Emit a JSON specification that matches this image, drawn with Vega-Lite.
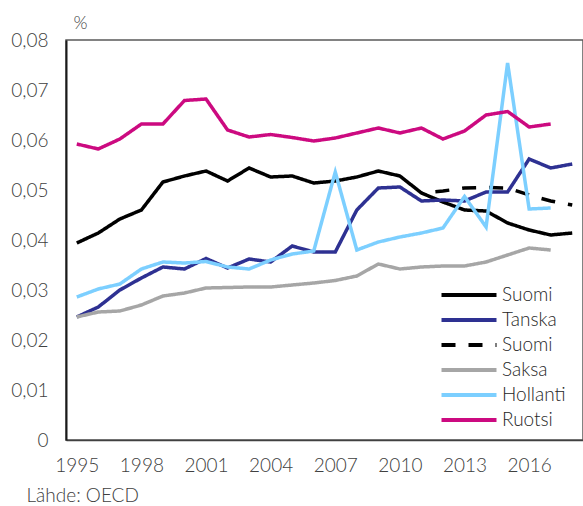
{
  "$schema": "https://vega.github.io/schema/vega-lite/v6.json",
  "width": 517,
  "height": 400,
  "autosize": {"type": "none"},
  "padding": {"left": 66, "top": 40, "right": 0, "bottom": 66},
  "background": "white",
  "config": {
    "view": {"stroke": "#595959", "strokeWidth": 1.5},
    "font": "Lato"
  },
  "data": {
    "values": [
      {"year": 1995, "series": "Suomi", "value": 0.0394},
      {"year": 1996, "series": "Suomi", "value": 0.0414},
      {"year": 1997, "series": "Suomi", "value": 0.0442},
      {"year": 1998, "series": "Suomi", "value": 0.0460},
      {"year": 1999, "series": "Suomi", "value": 0.0516},
      {"year": 2000, "series": "Suomi", "value": 0.0528},
      {"year": 2001, "series": "Suomi", "value": 0.0538},
      {"year": 2002, "series": "Suomi", "value": 0.0518},
      {"year": 2003, "series": "Suomi", "value": 0.0544},
      {"year": 2004, "series": "Suomi", "value": 0.0526},
      {"year": 2005, "series": "Suomi", "value": 0.0528},
      {"year": 2006, "series": "Suomi", "value": 0.0514},
      {"year": 2007, "series": "Suomi", "value": 0.0518},
      {"year": 2008, "series": "Suomi", "value": 0.0526},
      {"year": 2009, "series": "Suomi", "value": 0.0538},
      {"year": 2010, "series": "Suomi", "value": 0.0528},
      {"year": 2011, "series": "Suomi", "value": 0.0494},
      {"year": 2012, "series": "Suomi", "value": 0.0476},
      {"year": 2013, "series": "Suomi", "value": 0.0460},
      {"year": 2014, "series": "Suomi", "value": 0.0458},
      {"year": 2015, "series": "Suomi", "value": 0.0434},
      {"year": 2016, "series": "Suomi", "value": 0.0420},
      {"year": 2017, "series": "Suomi", "value": 0.0410},
      {"year": 2018, "series": "Suomi", "value": 0.0414},

      {"year": 1995, "series": "Tanska", "value": 0.0246},
      {"year": 1996, "series": "Tanska", "value": 0.0266},
      {"year": 1997, "series": "Tanska", "value": 0.0300},
      {"year": 1998, "series": "Tanska", "value": 0.0324},
      {"year": 1999, "series": "Tanska", "value": 0.0346},
      {"year": 2000, "series": "Tanska", "value": 0.0342},
      {"year": 2001, "series": "Tanska", "value": 0.0363},
      {"year": 2002, "series": "Tanska", "value": 0.0344},
      {"year": 2003, "series": "Tanska", "value": 0.0362},
      {"year": 2004, "series": "Tanska", "value": 0.0356},
      {"year": 2005, "series": "Tanska", "value": 0.0388},
      {"year": 2006, "series": "Tanska", "value": 0.0376},
      {"year": 2007, "series": "Tanska", "value": 0.0376},
      {"year": 2008, "series": "Tanska", "value": 0.0460},
      {"year": 2009, "series": "Tanska", "value": 0.0504},
      {"year": 2010, "series": "Tanska", "value": 0.0506},
      {"year": 2011, "series": "Tanska", "value": 0.0478},
      {"year": 2012, "series": "Tanska", "value": 0.0480},
      {"year": 2013, "series": "Tanska", "value": 0.0478},
      {"year": 2014, "series": "Tanska", "value": 0.0496},
      {"year": 2015, "series": "Tanska", "value": 0.0496},
      {"year": 2016, "series": "Tanska", "value": 0.0562},
      {"year": 2017, "series": "Tanska", "value": 0.0544},
      {"year": 2018, "series": "Tanska", "value": 0.0552},

      {"year": 2011, "series": "Suomi ennuste", "value": 0.0494},
      {"year": 2012, "series": "Suomi ennuste", "value": 0.0498},
      {"year": 2013, "series": "Suomi ennuste", "value": 0.0504},
      {"year": 2014, "series": "Suomi ennuste", "value": 0.0505},
      {"year": 2015, "series": "Suomi ennuste", "value": 0.0504},
      {"year": 2016, "series": "Suomi ennuste", "value": 0.0490},
      {"year": 2017, "series": "Suomi ennuste", "value": 0.0478},
      {"year": 2018, "series": "Suomi ennuste", "value": 0.0470},

      {"year": 1995, "series": "Saksa", "value": 0.0246},
      {"year": 1996, "series": "Saksa", "value": 0.0256},
      {"year": 1997, "series": "Saksa", "value": 0.0258},
      {"year": 1998, "series": "Saksa", "value": 0.0270},
      {"year": 1999, "series": "Saksa", "value": 0.0288},
      {"year": 2000, "series": "Saksa", "value": 0.0294},
      {"year": 2001, "series": "Saksa", "value": 0.0304},
      {"year": 2002, "series": "Saksa", "value": 0.0305},
      {"year": 2003, "series": "Saksa", "value": 0.0306},
      {"year": 2004, "series": "Saksa", "value": 0.0306},
      {"year": 2005, "series": "Saksa", "value": 0.0310},
      {"year": 2006, "series": "Saksa", "value": 0.0314},
      {"year": 2007, "series": "Saksa", "value": 0.0319},
      {"year": 2008, "series": "Saksa", "value": 0.0328},
      {"year": 2009, "series": "Saksa", "value": 0.0352},
      {"year": 2010, "series": "Saksa", "value": 0.0342},
      {"year": 2011, "series": "Saksa", "value": 0.0346},
      {"year": 2012, "series": "Saksa", "value": 0.0348},
      {"year": 2013, "series": "Saksa", "value": 0.0348},
      {"year": 2014, "series": "Saksa", "value": 0.0356},
      {"year": 2015, "series": "Saksa", "value": 0.0370},
      {"year": 2016, "series": "Saksa", "value": 0.0384},
      {"year": 2017, "series": "Saksa", "value": 0.0380},

      {"year": 1995, "series": "Hollanti", "value": 0.0286},
      {"year": 1996, "series": "Hollanti", "value": 0.0302},
      {"year": 1997, "series": "Hollanti", "value": 0.0312},
      {"year": 1998, "series": "Hollanti", "value": 0.0342},
      {"year": 1999, "series": "Hollanti", "value": 0.0356},
      {"year": 2000, "series": "Hollanti", "value": 0.0354},
      {"year": 2001, "series": "Hollanti", "value": 0.0357},
      {"year": 2002, "series": "Hollanti", "value": 0.0346},
      {"year": 2003, "series": "Hollanti", "value": 0.0342},
      {"year": 2004, "series": "Hollanti", "value": 0.0360},
      {"year": 2005, "series": "Hollanti", "value": 0.0372},
      {"year": 2006, "series": "Hollanti", "value": 0.0378},
      {"year": 2007, "series": "Hollanti", "value": 0.0536},
      {"year": 2008, "series": "Hollanti", "value": 0.0380},
      {"year": 2009, "series": "Hollanti", "value": 0.0396},
      {"year": 2010, "series": "Hollanti", "value": 0.0406},
      {"year": 2011, "series": "Hollanti", "value": 0.0414},
      {"year": 2012, "series": "Hollanti", "value": 0.0424},
      {"year": 2013, "series": "Hollanti", "value": 0.0487},
      {"year": 2014, "series": "Hollanti", "value": 0.0426},
      {"year": 2015, "series": "Hollanti", "value": 0.0754},
      {"year": 2016, "series": "Hollanti", "value": 0.0462},
      {"year": 2017, "series": "Hollanti", "value": 0.0464},

      {"year": 1995, "series": "Ruotsi", "value": 0.0592},
      {"year": 1996, "series": "Ruotsi", "value": 0.0582},
      {"year": 1997, "series": "Ruotsi", "value": 0.0602},
      {"year": 1998, "series": "Ruotsi", "value": 0.0632},
      {"year": 1999, "series": "Ruotsi", "value": 0.0632},
      {"year": 2000, "series": "Ruotsi", "value": 0.0679},
      {"year": 2001, "series": "Ruotsi", "value": 0.0682},
      {"year": 2002, "series": "Ruotsi", "value": 0.0620},
      {"year": 2003, "series": "Ruotsi", "value": 0.0606},
      {"year": 2004, "series": "Ruotsi", "value": 0.0611},
      {"year": 2005, "series": "Ruotsi", "value": 0.0605},
      {"year": 2006, "series": "Ruotsi", "value": 0.0598},
      {"year": 2007, "series": "Ruotsi", "value": 0.0604},
      {"year": 2008, "series": "Ruotsi", "value": 0.0614},
      {"year": 2009, "series": "Ruotsi", "value": 0.0624},
      {"year": 2010, "series": "Ruotsi", "value": 0.0614},
      {"year": 2011, "series": "Ruotsi", "value": 0.0624},
      {"year": 2012, "series": "Ruotsi", "value": 0.0602},
      {"year": 2013, "series": "Ruotsi", "value": 0.0618},
      {"year": 2014, "series": "Ruotsi", "value": 0.0650},
      {"year": 2015, "series": "Ruotsi", "value": 0.0657},
      {"year": 2016, "series": "Ruotsi", "value": 0.0626},
      {"year": 2017, "series": "Ruotsi", "value": 0.0632}
    ]
  },
  "mark": {"type": "line", "strokeWidth": 3.5, "strokeDashOffset": 13},
  "encoding": {
    "x": {
      "field": "year",
      "type": "quantitative",
      "scale": {"domain": [1994.5, 2018.5], "nice": false, "zero": false},
      "axis": {
        "values": [1995, 1998, 2001, 2004, 2007, 2010, 2013, 2016],
        "format": "d",
        "grid": false,
        "ticks": false,
        "domainColor": "#404040",
        "domainWidth": 1.5,
        "labelFont": "Lato",
        "labelFontWeight": 300,
        "labelFontSize": 19,
        "labelColor": "#404040",
        "labelPadding": 16,
        "labelFlush": false,
        "title": "Lähde: OECD",
        "titleFont": "Lato",
        "titleFontWeight": 300,
        "titleFontSize": 19,
        "titleColor": "#404040",
        "titleAnchor": "start",
        "titleAlign": "left",
        "titleBaseline": "alphabetic",
        "titleX": -40,
        "titleY": 61
      }
    },
    "y": {
      "field": "value",
      "type": "quantitative",
      "scale": {"domain": [0, 0.08], "nice": false},
      "axis": {
        "values": [0, 0.01, 0.02, 0.03, 0.04, 0.05, 0.06, 0.07, 0.08],
        "labelExpr": "datum.value == 0 ? '0' : replace(format(datum.value, '.2f'), '.', ',')",
        "grid": false,
        "ticks": false,
        "domainColor": "#1a1a1a",
        "domainWidth": 2,
        "labelFont": "Lato",
        "labelFontWeight": 300,
        "labelFontSize": 19,
        "labelColor": "#404040",
        "labelPadding": 18,
        "title": "%",
        "titleFont": "Lato",
        "titleFontWeight": 300,
        "titleFontSize": 18,
        "titleColor": "#404040",
        "titleAngle": 0,
        "titleAlign": "center",
        "titleBaseline": "alphabetic",
        "titleX": 14,
        "titleY": -12
      }
    },
    "color": {
      "field": "series",
      "type": "nominal",
      "scale": {
        "domain": ["Suomi", "Tanska", "Suomi ennuste", "Saksa", "Hollanti", "Ruotsi"],
        "range": ["#000000", "#2e3192", "#000000", "#a6a6a6", "#7ccfff", "#cc0a80"]
      },
      "legend": {
        "orient": "none",
        "legendX": 391,
        "legendY": 243,
        "title": null,
        "symbolType": "M-2.75,0H2.75",
        "symbolSize": 400,
        "symbolStrokeWidth": 4,
        "labelFont": "Lato",
        "labelFontWeight": 300,
        "labelFontSize": 19,
        "labelColor": "#262626",
        "labelOffset": 21,
        "rowPadding": 3,
        "labelExpr": "datum.label == 'Suomi ennuste' ? 'Suomi' : datum.label"
      }
    },
    "strokeDash": {
      "field": "series",
      "type": "nominal",
      "scale": {
        "domain": ["Suomi", "Tanska", "Suomi ennuste", "Saksa", "Hollanti", "Ruotsi"],
        "range": [[1, 0], [1, 0], [14, 13], [1, 0], [1, 0], [1, 0]]
      },
      "legend": {
        "orient": "none",
        "legendX": 391,
        "legendY": 243,
        "title": null,
        "symbolType": "M-2.75,0H2.75",
        "symbolSize": 400,
        "symbolStrokeWidth": 4,
        "labelFont": "Lato",
        "labelFontWeight": 300,
        "labelFontSize": 19,
        "labelColor": "#262626",
        "labelOffset": 21,
        "rowPadding": 3,
        "labelExpr": "datum.label == 'Suomi ennuste' ? 'Suomi' : datum.label"
      }
    }
  }
}
